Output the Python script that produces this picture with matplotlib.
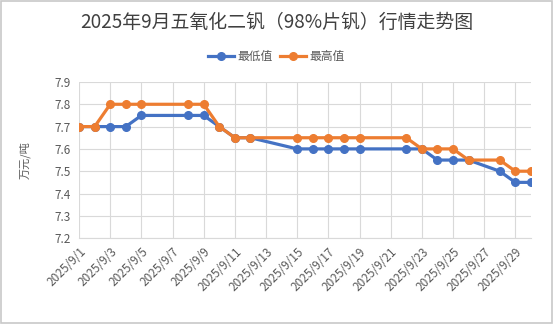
import matplotlib
matplotlib.use('Agg')
import matplotlib.pyplot as plt
from matplotlib.patches import Rectangle

plt.rcParams['font.family'] = ['Noto Sans CJK SC', 'DejaVu Sans']

# trading days in Sept 2025 (9/28 was a make-up working day)
days = [1, 2, 3, 4, 5, 8, 9, 10, 11, 12, 15, 16, 17, 18, 19,
        22, 23, 24, 25, 26, 28, 29, 30]
low = [7.70, 7.70, 7.70, 7.70, 7.75, 7.75, 7.75, 7.70, 7.65, 7.65, 7.60, 7.60, 7.60, 7.60, 7.60,
       7.60, 7.60, 7.55, 7.55, 7.55, 7.50, 7.45, 7.45]
high = [7.70, 7.70, 7.80, 7.80, 7.80, 7.80, 7.80, 7.70, 7.65, 7.65, 7.65, 7.65, 7.65, 7.65, 7.65,
        7.65, 7.60, 7.60, 7.60, 7.55, 7.55, 7.50, 7.50]
tick_days = list(range(1, 30, 2))
tick_labels = [f'2025/9/{d}' for d in tick_days]
y_ticks = [7.2, 7.3, 7.4, 7.5, 7.6, 7.7, 7.8, 7.9]

text_color = '#595959'
grid_color = '#D9D9D9'

fig = plt.figure(figsize=(5.53, 3.24), dpi=100)
fig.patch.set_facecolor('white')
fig.patches.append(Rectangle((0.002, 0.003), 0.996, 0.994, transform=fig.transFigure,
                             fill=False, edgecolor='#C8C8C8', linewidth=1.2))

ax = fig.add_axes([0.143, 0.265, 0.817, 0.482])
ax.plot(days, low, color='#4472C4', lw=2.3, marker='o', ms=5.5, label='最低值', zorder=3)
ax.plot(days, high, color='#ED7D31', lw=2.3, marker='o', ms=5.5, label='最高值', zorder=4)

ax.set_xlim(1, 30)
ax.set_ylim(7.2, 7.9)
ax.set_yticks(y_ticks)
ax.set_yticklabels([f'{v:.1f}' for v in y_ticks])
ax.set_xticks(tick_days)
ax.set_xticklabels(tick_labels, rotation=45, ha='right', rotation_mode='anchor')
ax.tick_params(axis='both', length=0, labelsize=8.5, colors=text_color)
ax.tick_params(axis='y', pad=6)
ax.tick_params(axis='x', pad=5)
ax.grid(True, color=grid_color, lw=0.8)
ax.set_axisbelow(True)
for side in ['top', 'right', 'left']:
    ax.spines[side].set_visible(False)
ax.spines['bottom'].set_color(grid_color)

ax.set_ylabel('万元/吨', fontsize=8, color=text_color, labelpad=17)

fig.text(0.5, 0.93, '2025年9月五氧化二钒（98%片钒）行情走势图', ha='center', va='center',
         fontsize=13.6, color='#404040')
fig.legend(loc='center', bbox_to_anchor=(0.5, 0.825), ncol=2, frameon=False,
           fontsize=8.5, labelcolor=text_color, handlelength=2.2, columnspacing=0.6,
           handletextpad=0.3)

fig.savefig('out.png', dpi=100)
